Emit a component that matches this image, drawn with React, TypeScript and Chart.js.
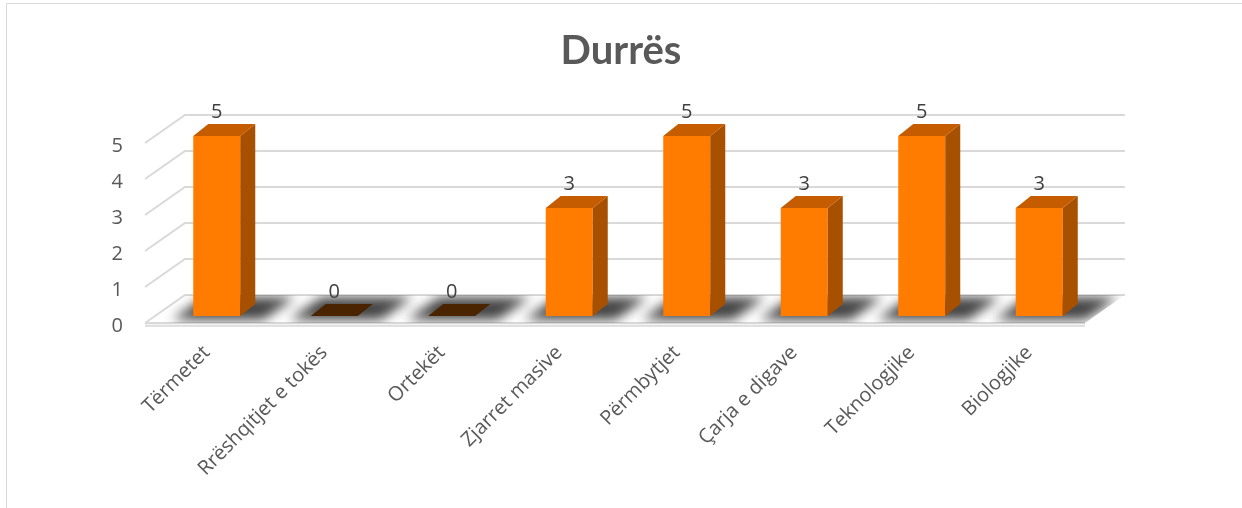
import React, { useEffect, useRef } from "react";
import { Chart, registerables } from "chart.js";
Chart.register(...registerables);

const TITLE = "Durrës";
const categories = [
  "Tërmetet",
  "Rrëshqitjet e tokës",
  "Ortekët",
  "Zjarret masive",
  "Përmbytjet",
  "Çarja e digave",
  "Teknologjike",
  "Biologjike",
];
const values = [5, 0, 0, 3, 5, 3, 5, 3];
const yTicks = [0, 1, 2, 3, 4, 5];

const FRONT = "#FF7C00";
const SIDE = "#A65000";
const TOPC = "#C55C00";
const ZERO = "#4A2300";
const GRID = "#D9D9D9";
const TEXT = "#595959";

// depth geometry (floor depth 0 = front edge, 1 = back wall); chart-area coords sit at depth 0.25
const DDX = 40;
const DDY = -28;
const BAR_DEPTH = 0.25;
const BDX = 15;
const BDY = -12;

const threeD = {
  id: "threeD",
  beforeDraw(chart: any) {
    const ctx = chart.ctx;
    ctx.save();
    ctx.strokeStyle = GRID;
    ctx.lineWidth = 1;
    ctx.beginPath();
    ctx.moveTo(6.5, 508);
    ctx.lineTo(6.5, 3.5);
    ctx.lineTo(1242, 3.5);
    ctx.stroke();
    ctx.restore();
  },
  beforeDatasetsDraw(chart: any) {
    const ctx = chart.ctx;
    const area = chart.chartArea;
    const ys = chart.scales.y;
    const xL = area.left - 3;
    const xR = area.right - 3;
    const P = (x: number, y: number, d: number) => [
      x + (d - BAR_DEPTH) * DDX,
      y + (d - BAR_DEPTH) * DDY,
    ];
    const y0 = ys.getPixelForValue(0);
    ctx.save();
    // floor
    const f = [P(xL, y0, 0), P(xR, y0, 0), P(xR, y0, 1), P(xL, y0, 1)];
    ctx.beginPath();
    f.forEach((p, i) => (i ? ctx.lineTo(p[0], p[1]) : ctx.moveTo(p[0], p[1])));
    ctx.closePath();
    ctx.fillStyle = "#FFFFFF";
    ctx.fill();
    // floor slab front face
    ctx.fillStyle = "#F2F2F2";
    ctx.fillRect(f[0][0], f[0][1], f[1][0] - f[0][0], 3);
    ctx.strokeStyle = GRID;
    ctx.lineWidth = 1.5;
    ctx.beginPath();
    ctx.moveTo(f[0][0], f[0][1] + 3);
    ctx.lineTo(f[1][0], f[1][1] + 3);
    ctx.stroke();

    // grid lines: back wall and side wall
    ctx.strokeStyle = GRID;
    ctx.lineWidth = 2;
    yTicks.forEach((v) => {
      const y = ys.getPixelForValue(v);
      const a = P(xL, y, 0);
      const b = P(xL, y, 1);
      const c = P(xR, y, 1);
      ctx.beginPath();
      ctx.moveTo(a[0], a[1]);
      ctx.lineTo(b[0], b[1]);
      ctx.lineTo(c[0], c[1]);
      ctx.stroke();
    });
    ctx.beginPath();
    ctx.moveTo(f[0][0], f[0][1]);
    ctx.lineTo(f[1][0], f[1][1]);
    ctx.stroke();

    // shadows on floor
    ctx.save();
    ctx.beginPath();
    f.forEach((p, i) => (i ? ctx.lineTo(p[0], p[1]) : ctx.moveTo(p[0], p[1])));
    ctx.closePath();
    ctx.clip();
    ctx.filter = "blur(6px)";
    ctx.fillStyle = "rgba(35,35,35,0.85)";
    const meta = chart.getDatasetMeta(0);
    meta.data.forEach((bar: any) => {
      const w = bar.width;
      const l = bar.x - w / 2 - 16;
      const r = bar.x + w / 2 + 28;
      const s = [P(l, y0, 0.12), P(r, y0, 0.12), P(r, y0, 0.92), P(l, y0, 0.92)];
      ctx.beginPath();
      s.forEach((p, i) => (i ? ctx.lineTo(p[0], p[1]) : ctx.moveTo(p[0], p[1])));
      ctx.closePath();
      ctx.fill();
    });
    ctx.restore();
    ctx.restore();
  },
  afterDatasetsDraw(chart: any) {
    const ctx = chart.ctx;
    const meta = chart.getDatasetMeta(0);
    const data = chart.data.datasets[0].data;
    ctx.save();
    meta.data.forEach((bar: any, i: number) => {
      const w = bar.width;
      const l = bar.x - w / 2;
      const r = bar.x + w / 2;
      const top = bar.y;
      const bottom = bar.base;
      const v = data[i];
      if (v > 0) {
        ctx.fillStyle = SIDE;
        ctx.beginPath();
        ctx.moveTo(r, top);
        ctx.lineTo(r + BDX, top + BDY);
        ctx.lineTo(r + BDX, bottom + BDY);
        ctx.lineTo(r, bottom);
        ctx.closePath();
        ctx.fill();
      }
      ctx.fillStyle = v > 0 ? TOPC : ZERO;
      ctx.beginPath();
      ctx.moveTo(l, top);
      ctx.lineTo(l + BDX, top + BDY);
      ctx.lineTo(r + BDX, top + BDY);
      ctx.lineTo(r, top);
      ctx.closePath();
      ctx.fill();
      // label
      ctx.fillStyle = "#404040";
      ctx.font = "20px 'Open Sans'";
      ctx.textAlign = "center";
      ctx.textBaseline = "middle";
      ctx.fillText(String(v), bar.x, top - 24);
    });
    ctx.restore();
  },
};

export default function App() {
  const ref = useRef<HTMLCanvasElement | null>(null);
  useEffect(() => {
    if (!ref.current) return;
    const chart = new Chart(ref.current, {
      type: "bar",
      data: {
        labels: categories,
        datasets: [
          {
            data: values,
            backgroundColor: FRONT,
            borderWidth: 0,
            barPercentage: 0.4,
            categoryPercentage: 1,
          },
        ],
      },
      options: {
        animation: false,
        responsive: false,
        events: [],
        layout: { padding: { top: 17, left: 0, right: 0, bottom: 0 } },
        plugins: {
          legend: { display: false },
          tooltip: { enabled: false },
          title: {
            display: true,
            text: TITLE,
            color: TEXT,
            font: { family: "Lato", size: 40, weight: "bold", lineHeight: 1.2 },
            padding: { top: 10, bottom: 61 },
          },
        },
        scales: {
          x: {
            grid: { display: false },
            border: { display: false },
            ticks: {
              autoSkip: false,
              maxRotation: 45,
              minRotation: 45,
              padding: 17,
              labelOffset: -10,
              color: TEXT,
              font: { family: "Open Sans", size: 20 },
            },
            afterFit: (s: any) => {
              s.height = 192;
            },
          },
          y: {
            min: 0,
            max: 5,
            grid: { display: false, drawTicks: false },
            border: { display: false },
            ticks: {
              stepSize: 1,
              padding: 35,
              labelOffset: 10,
              color: TEXT,
              font: { family: "Open Sans", size: 20 },
            },
            afterFit: (s: any) => {
              s.width = 158;
            },
          },
          yRight: {
            position: "right",
            display: true,
            grid: { display: false, drawTicks: false },
            border: { display: false },
            ticks: { display: false },
            afterFit: (s: any) => {
              s.width = 144;
            },
          },
        },
      },
      plugins: [threeD],
    });
    return () => chart.destroy();
  }, []);
  return (
    <canvas
      ref={ref}
      width={1242}
      height={508}
      style={{ position: "fixed", left: 0, top: 0, width: 1242, height: 508 }}
    />
  );
}
